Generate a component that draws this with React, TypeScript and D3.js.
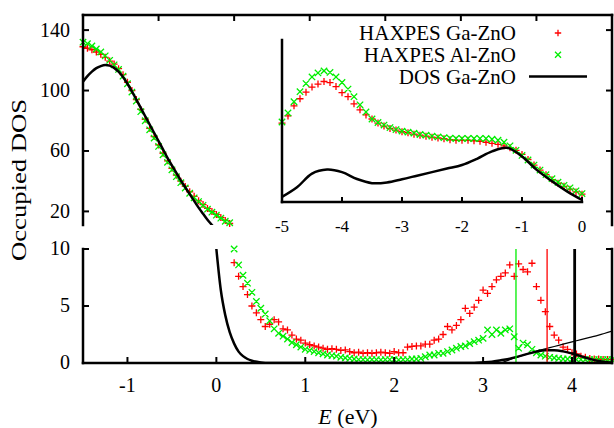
import * as d3 from 'd3';

// ---- data ----
// upper panel (valence band, large scale)
const upperE = [-1.5, -1.45, -1.4, -1.35, -1.3, -1.25, -1.2, -1.15, -1.1, -1.05, -1, -0.95, -0.9, -0.85, -0.8, -0.75, -0.7, -0.65, -0.6, -0.55, -0.5, -0.45, -0.4, -0.35, -0.3, -0.25, -0.2, -0.15, -0.1, -0.05, 0, 0.05, 0.1, 0.15];
const upperGa = [129, 128, 127, 125.5, 124, 122, 119.5, 117.5, 114.5, 110.5, 105.5, 100, 94, 87.5, 81, 75, 69.5, 64, 58.5, 53.5, 48.5, 44, 40, 36.5, 33, 30, 27, 24.5, 22, 20, 18, 16, 14, 12];
const upperAl = [132, 131, 129.5, 127.5, 125.5, 123, 120, 117, 114, 109.5, 104.5, 99, 93, 86, 80, 74, 68.5, 63, 57.5, 52.5, 47.5, 43, 39, 35.5, 32, 29, 26.5, 24, 21.5, 19.5, 17.5, 15.5, 13.5, 12.5];
const upperDosE = [-1.5, -1.45, -1.4, -1.35, -1.3, -1.25, -1.2, -1.15, -1.1, -1.05, -1, -0.95, -0.9, -0.85, -0.8, -0.75, -0.7, -0.65, -0.6, -0.55, -0.5, -0.45, -0.4, -0.35, -0.3, -0.25, -0.2, -0.15, -0.1, -0.05, 0];
const upperDosV = [105.9, 109.5, 112.5, 114.8, 116.2, 116.9, 116.5, 115, 112.5, 109, 104.5, 99.5, 94, 88.5, 83, 77.5, 72, 66.5, 61, 55.5, 50.5, 45.5, 40.5, 36, 31.5, 27, 22.5, 18.5, 14.5, 11, 7.5];

// lower panel (gap region, small scale)
const lowerE = [0.2, 0.25, 0.3, 0.35, 0.4, 0.45, 0.5, 0.55, 0.6, 0.65, 0.7, 0.75, 0.8, 0.85, 0.9, 0.95, 1, 1.05, 1.1, 1.15, 1.2, 1.25, 1.3, 1.35, 1.4, 1.45, 1.5, 1.55, 1.6, 1.65, 1.7, 1.75, 1.8, 1.85, 1.9, 1.95, 2, 2.05, 2.1, 2.15, 2.2, 2.25, 2.3, 2.35, 2.4, 2.45, 2.5, 2.55, 2.6, 2.65, 2.7, 2.75, 2.8, 2.85, 2.9, 2.95, 3, 3.05, 3.1, 3.15, 3.2, 3.25, 3.3, 3.35, 3.4, 3.45, 3.5, 3.55, 3.6, 3.65, 3.7, 3.75, 3.8, 3.85, 3.9, 3.95, 4, 4.05, 4.1, 4.15, 4.2, 4.25, 4.3, 4.35, 4.4, 4.45];
const lowerGa = [
	8.8, 7.6, 6.7, 6.0, 5.0, 4.4, 3.8, 3.2, 3.4, 3.8,
	3.6, 3.0, 2.9, 2.45, 2.1, 2.0, 1.75, 1.6, 1.5, 1.4,
	1.3, 1.2, 1.25, 1.2, 1.1, 1.15, 1.0, 0.9, 0.95, 0.85,
	0.9, 0.85, 0.9, 0.95, 0.9, 0.85, 1.0, 0.9, 0.9, 1.4,
	1.45, 1.5, 1.5, 1.65, 1.65, 2.0, 2.1, 2.5, 3.2, 2.9,
	3.3, 3.8, 4.8, 4.35, 4.9, 5.5, 6.4, 6.1, 6.7, 7.3,
	7.6, 7.9, 8.6, 7.6, 8.7, 8.2, 8.0, 8.75, 6.7, 5.5,
	4.5, 3.2, 2.45, 2.0, 1.4, 1.2, 0.9, 0.8, 0.6, 0.5,
	0.4, 0.35, 0.35, 0.3, 0.3, 0.3
];
const lowerAl = [
	10.0, 8.6, 7.7, 7.0, 6.2, 5.4, 4.8, 4.3, 3.7, 3.0,
	2.6, 2.35, 2.1, 1.8, 1.6, 1.4, 1.2, 1.1, 1.0, 0.9,
	0.8, 0.7, 0.65, 0.6, 0.5, 0.45, 0.4, 0.35, 0.3, 0.3,
	0.28, 0.3, 0.3, 0.28, 0.3, 0.3, 0.3, 0.28, 0.3, 0.3,
	0.35, 0.35, 0.4, 0.55, 0.7, 0.7, 0.85, 0.85, 1.0, 1.14,
	1.3, 1.45, 1.5, 1.7, 1.87, 2.0, 2.16, 2.9, 2.5, 2.9,
	2.6, 2.9, 3.0, 2.3, 1.3, 1.75, 1.6, 1.2, 0.9, 0.7,
	0.6, 0.5, 0.45, 0.4, 0.35, 0.35, 0.3, 0.3, 0.3, 0.3,
	0.3, 0.3, 0.3, 0.3, 0.3, 0.3
];
const lowerDosE = [0, 0.05, 0.1, 0.15, 0.2, 0.25, 0.3, 0.35, 0.4, 0.5, 0.6, 2.9, 3, 3.1, 3.2, 3.3, 3.4, 3.5, 3.6, 3.7, 3.8, 3.9, 4, 4.1, 4.2, 4.3, 4.4, 4.45];
const lowerDosV = [10, 6.4, 4.2, 2.7, 1.7, 1, 0.6, 0.35, 0.2, 0.05, 0, 0, 0.05, 0.12, 0.25, 0.38, 0.58, 0.8, 1, 1.12, 1.12, 1.02, 0.83, 0.6, 0.36, 0.18, 0.07, 0.04];
// thin conduction band curve
const cbE = [3.2, 3.3, 3.4, 3.5, 3.6, 3.7, 3.8, 3.9, 4, 4.1, 4.2, 4.3, 4.45];
const cbV = [0, 0.3, 0.55, 0.8, 1.05, 1.25, 1.45, 1.65, 1.85, 2.05, 2.25, 2.45, 2.8];
// Fermi level markers (Al-ZnO, Ga-ZnO, DOS)
const edgeE = [3.37, 3.72, 4.03];

// inset (full valence band)
const insetE = [-5, -4.9, -4.8, -4.7, -4.6, -4.5, -4.4, -4.3, -4.2, -4.1, -4, -3.9, -3.8, -3.7, -3.6, -3.5, -3.4, -3.3, -3.2, -3.1, -3, -2.9, -2.8, -2.7, -2.6, -2.5, -2.4, -2.3, -2.2, -2.1, -2, -1.9, -1.8, -1.7, -1.6, -1.5, -1.4, -1.3, -1.2, -1.1, -1, -0.9, -0.8, -0.7, -0.6, -0.5, -0.4, -0.3, -0.2, -0.1, 0];
const insetGa = [78, 85, 95, 102, 108.5, 113.5, 116.5, 119, 118, 114, 108, 104, 97, 91, 86, 82, 78, 75, 72.7, 71, 69.5, 68.5, 67, 66, 65, 64, 63.3, 62.5, 61.5, 61, 61, 61, 60.5, 60, 59, 58, 57, 55.5, 53.5, 51, 47, 42, 36.5, 31.5, 27, 22, 18.5, 15.5, 12.7, 10, 7.7];
const insetAl = [79, 88, 99, 109, 117, 123.5, 127.5, 129.5, 128, 123.5, 118, 111.5, 104, 96, 89, 82, 78.5, 76, 73.5, 71.5, 70, 69, 68, 66.7, 66, 65, 64.3, 63.5, 63, 62.7, 62.7, 62.7, 62.7, 62.7, 62.7, 62, 61, 59, 55.5, 51, 46, 41.5, 36.5, 31.5, 27, 23, 19.5, 16.5, 14, 11, 8.3];
const insetDosE = [-5, -4.75, -4.5, -4.25, -4, -3.75, -3.5, -3.25, -3, -2.75, -2.5, -2.25, -2, -1.75, -1.5, -1.25, -1, -0.75, -0.5, -0.25, 0];
const insetDosV = [5, 14.5, 28, 32, 29.5, 22.7, 18.6, 19.3, 22.5, 26, 29.5, 33, 36.5, 42.7, 50, 53.5, 45, 31.5, 20.5, 10.5, 2];

// ticks
const mainXTicks = [-1, 0, 1, 2, 3, 4];
const upperYTicks = [20, 60, 100, 140];
const lowerYTicks = [0, 5, 10];
const insetXTicks = [-5, -4, -3, -2, -1, 0];
const topTicks = [1, 2, 3, 4, 5, 6];

const legendLabels = ['HAXPES Ga-ZnO', 'HAXPES Al-ZnO', 'DOS Ga-ZnO'];

const FONT = '"Liberation Serif"';
const RED = '#ff0000';
const GREEN = '#00ee00';

const plus = (cx: number, cy: number, s: number) => `M${cx - s},${cy}H${cx + s}M${cx},${cy - s}V${cy + s}`;
const cross = (cx: number, cy: number, s: number) =>
	`M${cx - s},${cy - s}L${cx + s},${cy + s}M${cx - s},${cy + s}L${cx + s},${cy - s}`;

export default function App() {
	const width = 614;
	const height = 428;
	const left = 83;
	const right = 612;

	const x = d3.scaleLinear().domain([-1.5, 4.45]).range([left, right]);
	const yU = d3.scaleLinear().domain([11, 150]).range([225, 15]);
	const yL = d3.scaleLinear().domain([0, 10]).range([363, 249]);
	const xI = d3.scaleLinear().domain([-5, 0]).range([282, 582]);
	const yI = d3.scaleLinear().domain([0, 160]).range([202, 40]);
	const xTop = d3.scaleLinear().domain([0, 7]).range([left, right]);

	const marks = (xs: number[], ys: number[], sx: any, sy: any, kind: string) =>
		xs.map((e, i) => (kind === 'plus' ? plus(sx(e), sy(ys[i]), 3.5) : cross(sx(e), sy(ys[i]), 3.2))).join('');

	const curve = (xs: number[], ys: number[], sx: any, sy: any, c: any = d3.curveMonotoneX) =>
		d3.line<number>().x((d, i) => sx(xs[i])).y((d) => sy(d)).curve(c)(ys) ?? '';

	const border = { stroke: '#000', strokeWidth: 2.5, strokeLinecap: 'square' as const };
	const tick = { stroke: '#000', strokeWidth: 2 };
	const edgeColors = [GREEN, RED, '#000'];
	const edgeWidths = [1.3, 1.3, 2.8];

	const [uTop, uBot] = [yU(150), yU(11)];
	const [lTop, lBot] = [yL(10), yL(0)];

	return (
		<svg
			width={width}
			height={height}
			viewBox={`0 0 ${width} ${height}`}
			style={{ position: 'absolute', left: 0, top: 0, background: '#fff', fontFamily: FONT }}
		>
			<defs>
				<clipPath id="clipU">
					<rect x={left} y={uTop} width={right - left} height={uBot - uTop} />
				</clipPath>
				<clipPath id="clipL">
					<rect x={left} y={lTop} width={right - left} height={lBot - lTop} />
				</clipPath>
			</defs>

			{/* upper panel data */}
			<path d={marks(upperE, upperGa, x, yU, 'plus')} fill="none" stroke={RED} strokeWidth={1.3} />
			<path d={marks(upperE, upperAl, x, yU, 'cross')} fill="none" stroke={GREEN} strokeWidth={1.3} />
			<path d={curve(upperDosE, upperDosV, x, yU)} fill="none" stroke="#000" strokeWidth={2.5} clipPath="url(#clipU)" />

			{/* lower panel data */}
			<path d={marks(lowerE, lowerGa, x, yL, 'plus')} fill="none" stroke={RED} strokeWidth={1.3} />
			<path d={marks(lowerE, lowerAl, x, yL, 'cross')} fill="none" stroke={GREEN} strokeWidth={1.3} />
			<path d={curve(lowerDosE, lowerDosV, x, yL)} fill="none" stroke="#000" strokeWidth={2.5} clipPath="url(#clipL)" />
			<path d={curve(cbE, cbV, x, yL)} fill="none" stroke="#000" strokeWidth={1.2} clipPath="url(#clipL)" />
			{edgeE.map((e, i) => (
				<line key={e} x1={x(e)} x2={x(e)} y1={lBot} y2={lTop} stroke={edgeColors[i]} strokeWidth={edgeWidths[i]} />
			))}

			{/* inset data */}
			<path d={marks(insetE, insetGa, xI, yI, 'plus')} fill="none" stroke={RED} strokeWidth={1.3} />
			<path d={marks(insetE, insetAl, xI, yI, 'cross')} fill="none" stroke={GREEN} strokeWidth={1.3} />
			<path d={curve(insetDosE, insetDosV, xI, yI, d3.curveCatmullRom)} fill="none" stroke="#000" strokeWidth={2.5} />

			{/* upper panel frame */}
			<line x1={left} x2={left} y1={uTop} y2={uBot} {...border} />
			<line x1={right} x2={right} y1={uTop} y2={uBot} {...border} />
			<line x1={left} x2={right} y1={uTop} y2={uTop} {...border} />
			{upperYTicks.map((t) => (
				<g key={t}>
					<line x1={left} x2={left + 6} y1={yU(t)} y2={yU(t)} {...tick} />
					<line x1={right - 6} x2={right} y1={yU(t)} y2={yU(t)} {...tick} />
					<text x={left - 13} y={yU(t)} dy="0.32em" textAnchor="end" fontSize={20}>{t}</text>
				</g>
			))}
			{topTicks.map((t) => (
				<line key={t} x1={xTop(t)} x2={xTop(t)} y1={uTop} y2={uTop + 6} {...tick} />
			))}

			{/* lower panel frame */}
			<line x1={left} x2={left} y1={lTop} y2={lBot} {...border} />
			<line x1={right} x2={right} y1={lTop} y2={lBot} {...border} />
			<line x1={left} x2={right} y1={lBot} y2={lBot} {...border} />
			{lowerYTicks.map((t) => (
				<g key={t}>
					<line x1={left} x2={left + 6} y1={yL(t)} y2={yL(t)} {...tick} />
					<line x1={right - 6} x2={right} y1={yL(t)} y2={yL(t)} {...tick} />
					<text x={left - 13} y={yL(t)} dy="0.32em" textAnchor="end" fontSize={20}>{t}</text>
				</g>
			))}
			{mainXTicks.map((t) => (
				<g key={t}>
					<line x1={x(t)} x2={x(t)} y1={lBot} y2={lBot - 6} {...tick} />
					<text x={x(t)} y={lBot + 15} dy="0.71em" textAnchor="middle" fontSize={20}>{String(t)}</text>
				</g>
			))}

			{/* inset frame */}
			<line x1={xI(-5)} x2={xI(-5)} y1={yI(160)} y2={yI(0)} {...border} />
			<line x1={xI(-5)} x2={xI(0)} y1={yI(0)} y2={yI(0)} {...border} />
			{insetXTicks.map((t) => (
				<g key={t}>
					<line x1={xI(t)} x2={xI(t)} y1={yI(0)} y2={yI(0) - 5} {...tick} />
					<text x={xI(t)} y={yI(0) + 18} dy="0.71em" textAnchor="middle" fontSize={17}>{String(t)}</text>
				</g>
			))}

			{/* legend */}
			{legendLabels.map((label, i) => {
				const cy = 33 + i * 21.8;
				return (
					<g key={label}>
						<text x={516} y={cy + 7} textAnchor="end" fontSize={21}>{label}</text>
						{i === 0 && <path d={plus(558, cy, 3.2)} stroke={RED} strokeWidth={1.3} />}
						{i === 1 && <path d={cross(558, cy, 3)} stroke={GREEN} strokeWidth={1.3} />}
						{i === 2 && <line x1={529} x2={587} y1={cy} y2={cy} stroke="#000" strokeWidth={2.5} />}
					</g>
				);
			})}

			{/* axis titles */}
			<text
				transform="translate(26,180) rotate(-90)"
				textAnchor="middle"
				fontSize={22}
				textLength={162}
				lengthAdjust="spacingAndGlyphs"
			>
				Occupied DOS
			</text>
			<text x={348} y={424} textAnchor="middle" fontSize={22}>
				<tspan fontStyle="italic">E</tspan> (eV)
			</text>
		</svg>
	);
}
